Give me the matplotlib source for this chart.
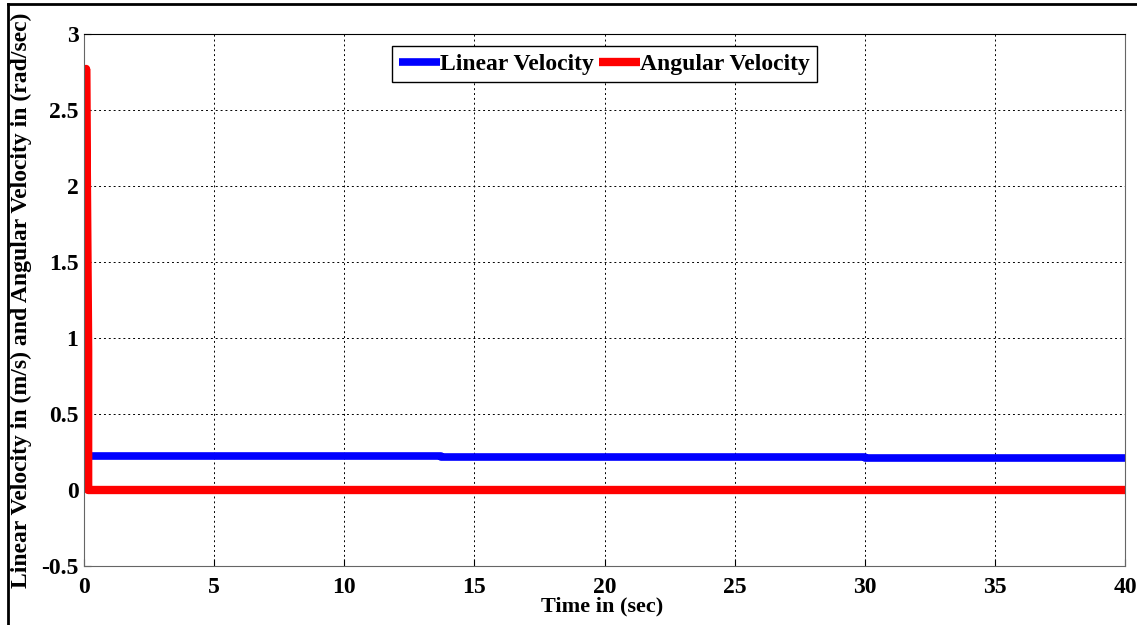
import matplotlib.pyplot as plt

plt.rcParams["font.family"] = ["Liberation Serif", "DejaVu Serif"]
plt.rcParams["font.weight"] = "bold"

# data
t_lin = [0.3, 13.7, 13.7, 30.0, 30.0, 40.0]
v_lin = [0.222, 0.222, 0.215, 0.215, 0.209, 0.209]

t_ang = [0.06, 0.08, 0.12, 0.16, 0.16, 40.0]
w_ang = [0.0, 2.77, 1.84, 0.92, 0.0, 0.0]

x_ticks = [0, 5, 10, 15, 20, 25, 30, 35, 40]
y_ticks = [-0.5, 0, 0.5, 1, 1.5, 2, 2.5, 3]
y_tick_labels = ["-0.5", "0", "0.5", "1", "1.5", "2", "2.5", "3"]

fig = plt.figure(figsize=(11.37, 6.25), dpi=100)
ax = fig.add_axes([84 / 1137, 59 / 625, 1041 / 1137, 532 / 625])

ax.plot(t_lin, v_lin, color="#0000ff", lw=5.5, solid_capstyle="butt",
        label="Linear Velocity")
ax.plot(t_ang, w_ang, color="#ff0000", lw=6, solid_capstyle="butt",
        label="Angular Velocity")

ax.set_xlim(0, 40)
ax.set_ylim(-0.5, 3)
ax.set_xticks(x_ticks)
ax.set_xticklabels([str(x) for x in x_ticks])
ax.set_yticks(y_ticks)
ax.set_yticklabels(y_tick_labels)
ax.tick_params(labelsize=17, direction="in", length=5, pad=4)
ax.tick_params(axis="x", pad=8)
ax.grid(True, color="black", linestyle=(0, (2, 3)), linewidth=0.7)

for s in ["left", "bottom", "right"]:
    ax.spines[s].set_color("#666666")
ax.spines["top"].set_color("black")

ax.set_xlabel("Time in (sec)", fontsize=16, fontweight="bold")
ax.xaxis.set_label_coords(0.498, -0.058)
ax.set_ylabel("Linear Velocity in (m/s) and Angular Velocity in (rad/sec)",
              fontsize=17, fontweight="bold")
ax.yaxis.set_label_coords(-0.05, 0.5)

leg = ax.legend(loc="upper center", ncol=2, fontsize=17, handlelength=1.75,
                handletextpad=0.0, columnspacing=0.2, borderpad=0.3,
                borderaxespad=0, bbox_to_anchor=(0.5, 0.977),
                fancybox=False, framealpha=1)
leg.get_frame().set_edgecolor("black")
leg.get_frame().set_linewidth(1.0)

# outer frame lines (left and top) seen in the reference
fig.add_artist(plt.Line2D([8 / 1137, 8 / 1137], [0, 1 - 4 / 625],
                          transform=fig.transFigure, color="black", lw=2))
fig.add_artist(plt.Line2D([8 / 1137, 1], [1 - 4 / 625, 1 - 4 / 625],
                          transform=fig.transFigure, color="black", lw=2))

fig.savefig("out.png", dpi=100)
